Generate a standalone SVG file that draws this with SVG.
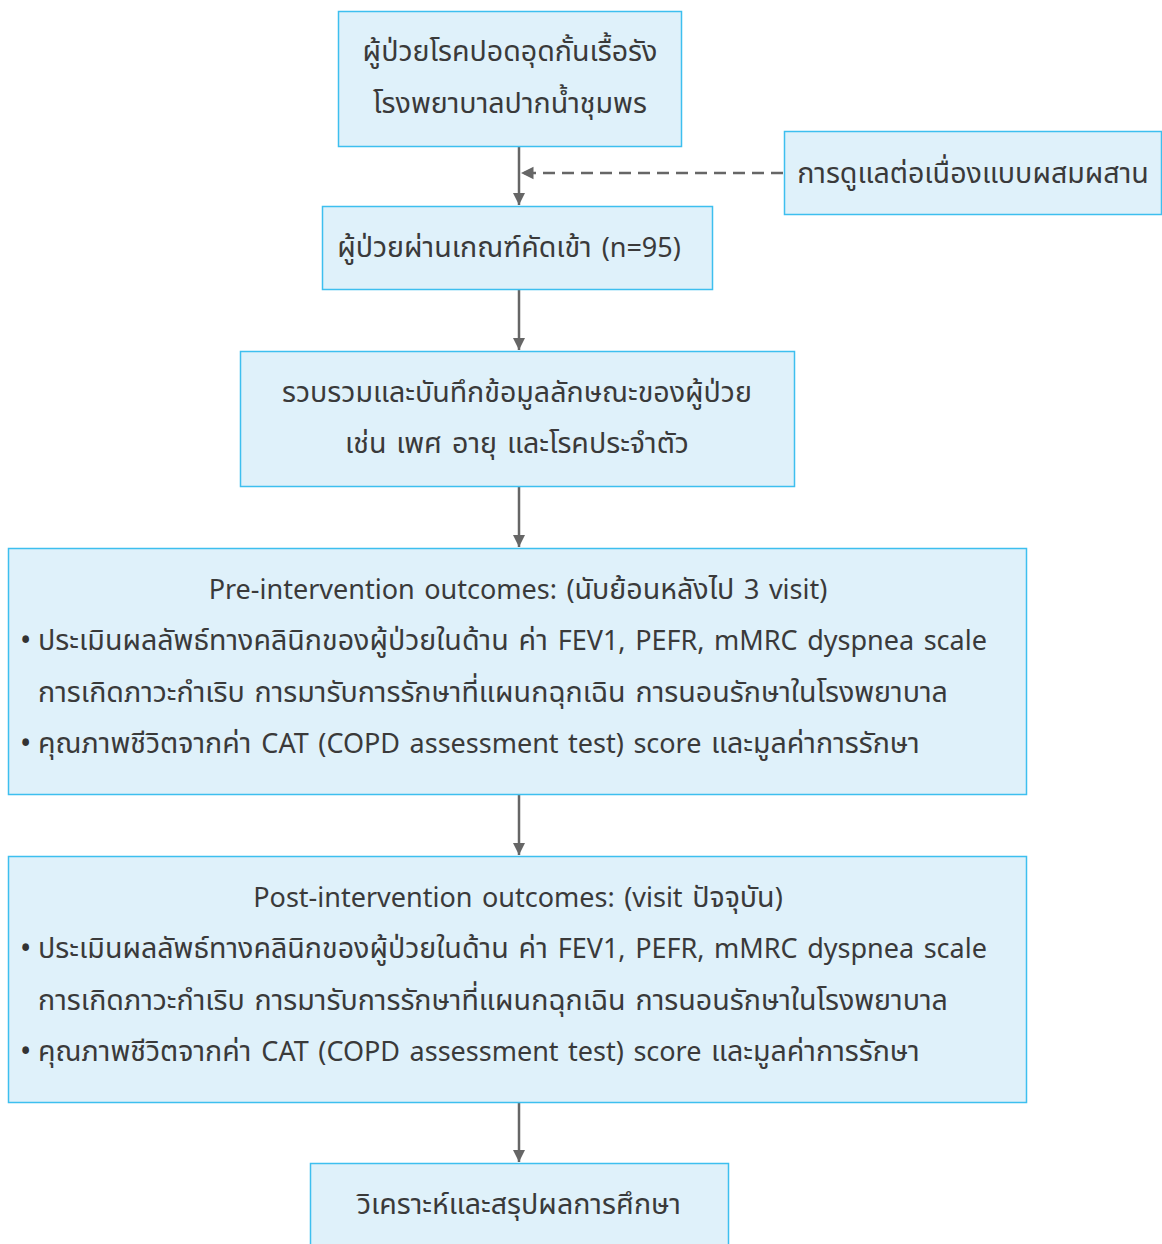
<svg xmlns="http://www.w3.org/2000/svg" width="1162" height="1244" viewBox="0 0 1162 1244">
<style>
.box{fill:#dff1fa;stroke:#3dbfef;stroke-width:1.5}
.t{font-family:"Noto Sans Thai","Noto Sans","Open Sans",sans-serif;font-size:28.6px;fill:#3a3a3a;word-spacing:2.5px}
.l{font-size:27px}
.c{text-anchor:middle}
.b{font-family:"Noto Sans",sans-serif;font-size:30px;fill:#333}
.ln{stroke:#666;stroke-width:2.5;fill:none}
.dash{stroke:#666;stroke-width:2.5;fill:none;stroke-dasharray:12 7}
</style>
<defs>
<marker id="ah" viewBox="0 0 10 10" refX="10" refY="5" markerWidth="5" markerHeight="6" orient="auto" markerUnits="strokeWidth">
<path d="M0,0 L10,5 L0,10 Z" fill="#666"/>
</marker>
</defs>
<rect width="1162" height="1244" fill="#fff"/>
<g id="connectors">
<line class="ln" x1="519" y1="146" x2="519" y2="205" marker-end="url(#ah)"/>
<line class="dash" x1="783" y1="173" x2="521" y2="173" marker-end="url(#ah)"/>
<line class="ln" x1="519" y1="289" x2="519" y2="350" marker-end="url(#ah)"/>
<line class="ln" x1="519" y1="486" x2="519" y2="547" marker-end="url(#ah)"/>
<line class="ln" x1="519" y1="794" x2="519" y2="855" marker-end="url(#ah)"/>
<line class="ln" x1="519" y1="1102" x2="519" y2="1162" marker-end="url(#ah)"/>
</g>
<g id="n1">
<rect class="box" x="338.5" y="11.5" width="343" height="135"/>
<text class="t c" x="510" y="61">ผู้ป่วยโรคปอดอุดกั้นเรื้อรัง</text>
<text class="t c" x="510" y="113">โรงพยาบาลปากน้ำชุมพร</text>
</g>
<g id="n2">
<rect class="box" x="784.5" y="131.5" width="377" height="83"/>
<text class="t c" x="973" y="183">การดูแลต่อเนื่องแบบผสมผสาน</text>
</g>
<g id="n3">
<rect class="box" x="322.5" y="206.5" width="390" height="83"/>
<text class="t c" x="509" y="257">ผู้ป่วยผ่านเกณฑ์คัดเข้า <tspan class="l">(n=95)</tspan></text>
</g>
<g id="n4">
<rect class="box" x="240.5" y="351.5" width="554" height="135"/>
<text class="t c" x="517" y="402">รวบรวมและบันทึกข้อมูลลักษณะของผู้ป่วย</text>
<text class="t c" x="517" y="453">เช่น เพศ อายุ และโรคประจำตัว</text>
</g>
<g id="n5">
<rect class="box" x="8.5" y="548.5" width="1018" height="246"/>
<text class="t c" x="518" y="599"><tspan class="l">Pre-intervention outcomes: (</tspan>นับย้อนหลังไป<tspan class="l"> 3 visit)</tspan></text>
<text class="b" x="20" y="651">•</text>
<text class="t" x="38" y="650">ประเมินผลลัพธ์ทางคลินิกของผู้ป่วยในด้าน ค่า <tspan class="l">FEV1, PEFR, mMRC dyspnea scale</tspan></text>
<text class="t" x="38" y="702">การเกิดภาวะกำเริบ การมารับการรักษาที่แผนกฉุกเฉิน การนอนรักษาในโรงพยาบาล</text>
<text class="b" x="20" y="754">•</text>
<text class="t" x="38" y="753">คุณภาพชีวิตจากค่า <tspan class="l">CAT (COPD assessment test) score </tspan>และมูลค่าการรักษา</text>
</g>
<g id="n6">
<rect class="box" x="8.5" y="856.5" width="1018" height="246"/>
<text class="t c" x="518" y="907"><tspan class="l">Post-intervention outcomes: (visit </tspan>ปัจจุบัน<tspan class="l">)</tspan></text>
<text class="b" x="20" y="959">•</text>
<text class="t" x="38" y="958">ประเมินผลลัพธ์ทางคลินิกของผู้ป่วยในด้าน ค่า <tspan class="l">FEV1, PEFR, mMRC dyspnea scale</tspan></text>
<text class="t" x="38" y="1010">การเกิดภาวะกำเริบ การมารับการรักษาที่แผนกฉุกเฉิน การนอนรักษาในโรงพยาบาล</text>
<text class="b" x="20" y="1062">•</text>
<text class="t" x="38" y="1061">คุณภาพชีวิตจากค่า <tspan class="l">CAT (COPD assessment test) score </tspan>และมูลค่าการรักษา</text>
</g>
<g id="n7">
<rect class="box" x="310.5" y="1163.5" width="418" height="90"/>
<text class="t c" x="519" y="1214">วิเคราะห์และสรุปผลการศึกษา</text>
</g>
</svg>
